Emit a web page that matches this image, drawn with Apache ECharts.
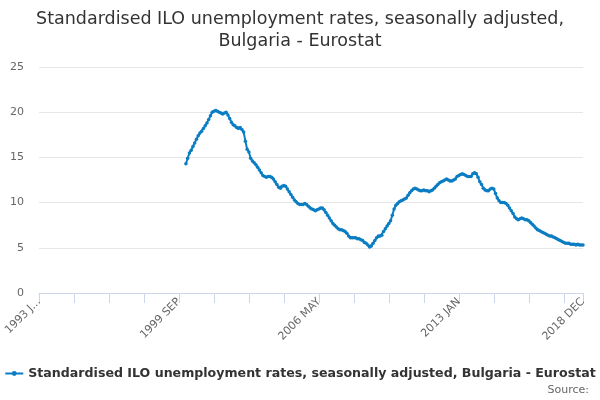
<!DOCTYPE html>
<html>
<head>
<meta charset="utf-8">
<script src="https://cdn.jsdelivr.net/npm/echarts@6/dist/echarts.min.js"></script>
<style>
html,body{margin:0;padding:0;background:#fff;}
#chart{width:600px;height:400px;}
</style>
</head>
<body>
<div id="chart"></div>
<script>
// monthly axis 1993 JAN .. 2018 DEC
var firstYear = 1993;
var lastYear = 2018;
var monthNames = ['JAN','FEB','MAR','APR','MAY','JUN','JUL','AUG','SEP','OCT','NOV','DEC'];
// values start at 2000 JAN, one row per year
var firstDataYear = 2000;
var rate2000 = [14.3, 14.9, 15.5, 15.8, 16.2, 16.6, 17.0, 17.4, 17.7, 17.9, 18.2, 18.5];
var rate2001 = [18.8, 19.2, 19.6, 20.0, 20.1, 20.2, 20.1, 20.0, 19.9, 19.8, 19.9, 20.0];
var rate2002 = [19.7, 19.3, 18.9, 18.6, 18.5, 18.3, 18.2, 18.3, 18.1, 17.8, 16.8, 15.9];
var rate2003 = [15.6, 14.9, 14.6, 14.4, 14.2, 13.9, 13.6, 13.3, 13.0, 12.9, 12.8, 12.9];
var rate2004 = [12.9, 12.8, 12.6, 12.3, 12.0, 11.7, 11.6, 11.8, 11.9, 11.8, 11.5, 11.2];
var rate2005 = [10.9, 10.6, 10.3, 10.1, 9.9, 9.8, 9.8, 9.8, 9.9, 9.8, 9.6, 9.4];
var rate2006 = [9.3, 9.2, 9.1, 9.2, 9.3, 9.4, 9.4, 9.2, 8.9, 8.6, 8.3, 8.0];
var rate2007 = [7.7, 7.5, 7.3, 7.1, 7.0, 7.0, 6.9, 6.8, 6.6, 6.3, 6.1, 6.1];
var rate2008 = [6.1, 6.1, 6.0, 6.0, 5.9, 5.8, 5.6, 5.5, 5.3, 5.1, 5.2, 5.5];
var rate2009 = [5.8, 6.1, 6.3, 6.3, 6.4, 6.8, 7.1, 7.4, 7.7, 8.0, 8.6, 9.3];
var rate2010 = [9.7, 9.9, 10.1, 10.2, 10.3, 10.4, 10.5, 10.8, 11.1, 11.3, 11.5, 11.6];
var rate2011 = [11.5, 11.4, 11.3, 11.3, 11.4, 11.3, 11.3, 11.2, 11.3, 11.4, 11.6, 11.8];
var rate2012 = [12.0, 12.2, 12.3, 12.4, 12.5, 12.6, 12.5, 12.4, 12.4, 12.5, 12.6, 12.9];
var rate2013 = [13.0, 13.1, 13.2, 13.1, 13.0, 12.9, 12.9, 12.9, 13.2, 13.3, 13.2, 12.8];
var rate2014 = [12.3, 12.0, 11.6, 11.4, 11.3, 11.3, 11.5, 11.6, 11.5, 11.0, 10.5, 10.2];
var rate2015 = [10.0, 10.0, 10.0, 9.9, 9.7, 9.4, 9.1, 8.8, 8.4, 8.2, 8.1, 8.2];
var rate2016 = [8.3, 8.2, 8.1, 8.1, 8.0, 7.8, 7.6, 7.4, 7.2, 7.0, 6.9, 6.8];
var rate2017 = [6.7, 6.6, 6.5, 6.4, 6.3, 6.3, 6.2, 6.1, 6.0, 5.9, 5.8, 5.7];
var rate2018 = [5.6, 5.5, 5.5, 5.5, 5.4, 5.4, 5.4, 5.3, 5.4, 5.3, 5.3, 5.3];

var seriesName = 'Standardised ILO unemployment rates, seasonally adjusted, Bulgaria - Eurostat';

var categories = [];
for (var y = firstYear; y <= lastYear; y++) {
    for (var m = 0; m < 12; m++) categories.push(y + ' ' + monthNames[m]);
}
var yearRows = [rate2000, rate2001, rate2002, rate2003, rate2004, rate2005, rate2006,
    rate2007, rate2008, rate2009, rate2010, rate2011, rate2012, rate2013, rate2014,
    rate2015, rate2016, rate2017, rate2018];
var values = [];
for (var i = 0; i < (firstDataYear - firstYear) * 12; i++) values.push('-');
yearRows.forEach(function (row) { values = values.concat(row); });

var lastIdx = categories.length - 1;
var myChart = echarts.init(document.getElementById('chart'));
var option = {
    animation: false,
    textStyle: {fontFamily: 'DejaVu Sans'},
    title: {
        text: 'Standardised ILO unemployment rates, seasonally adjusted,\nBulgaria - Eurostat',
        left: 'center',
        top: 3,
        textStyle: {fontSize: 17.5, fontWeight: 'normal', color: '#333', lineHeight: 22}
    },
    legend: {
        data: [seriesName],
        bottom: 15,
        left: 'center',
        itemWidth: 18,
        itemHeight: 6,
        itemGap: 5,
        textStyle: {fontSize: 12.6, fontWeight: 'bold', color: '#333'}
    },
    graphic: [{
        type: 'text',
        right: 11,
        bottom: 4,
        style: {text: 'Source:', fontSize: 11, fill: '#666', fontFamily: 'DejaVu Sans'}
    }],
    grid: {left: 39, right: 17, top: 67, bottom: 107, containLabel: false},
    xAxis: {
        type: 'category',
        data: categories,
        boundaryGap: false,
        axisLine: {lineStyle: {color: '#ccd6eb'}},
        axisTick: {
            length: 10,
            lineStyle: {color: '#ccd6eb'},
            interval: function (idx) { return idx % 20 === 0 || idx === lastIdx; }
        },
        axisLabel: {
            rotate: 45,
            fontSize: 11,
            color: '#666',
            margin: 7,
            interval: function (idx) { return idx % 80 === 0 || idx === lastIdx; },
            formatter: function (v, idx) { return idx === 0 ? v.slice(0, 6) + '...' : v; }
        },
        splitLine: {show: false}
    },
    yAxis: {
        type: 'value',
        min: 0,
        max: 25,
        interval: 5,
        axisLine: {show: false},
        axisTick: {show: false},
        axisLabel: {fontSize: 11, color: '#666', margin: 15},
        splitLine: {lineStyle: {color: '#e6e6e6'}}
    },
    series: [{
        name: seriesName,
        type: 'line',
        data: values,
        color: '#0b7dc2',
        lineStyle: {width: 2},
        symbol: 'circle',
        symbolSize: 3.5,
        showAllSymbol: true
    }]
};
myChart.setOption(option);
</script>
</body>
</html>
